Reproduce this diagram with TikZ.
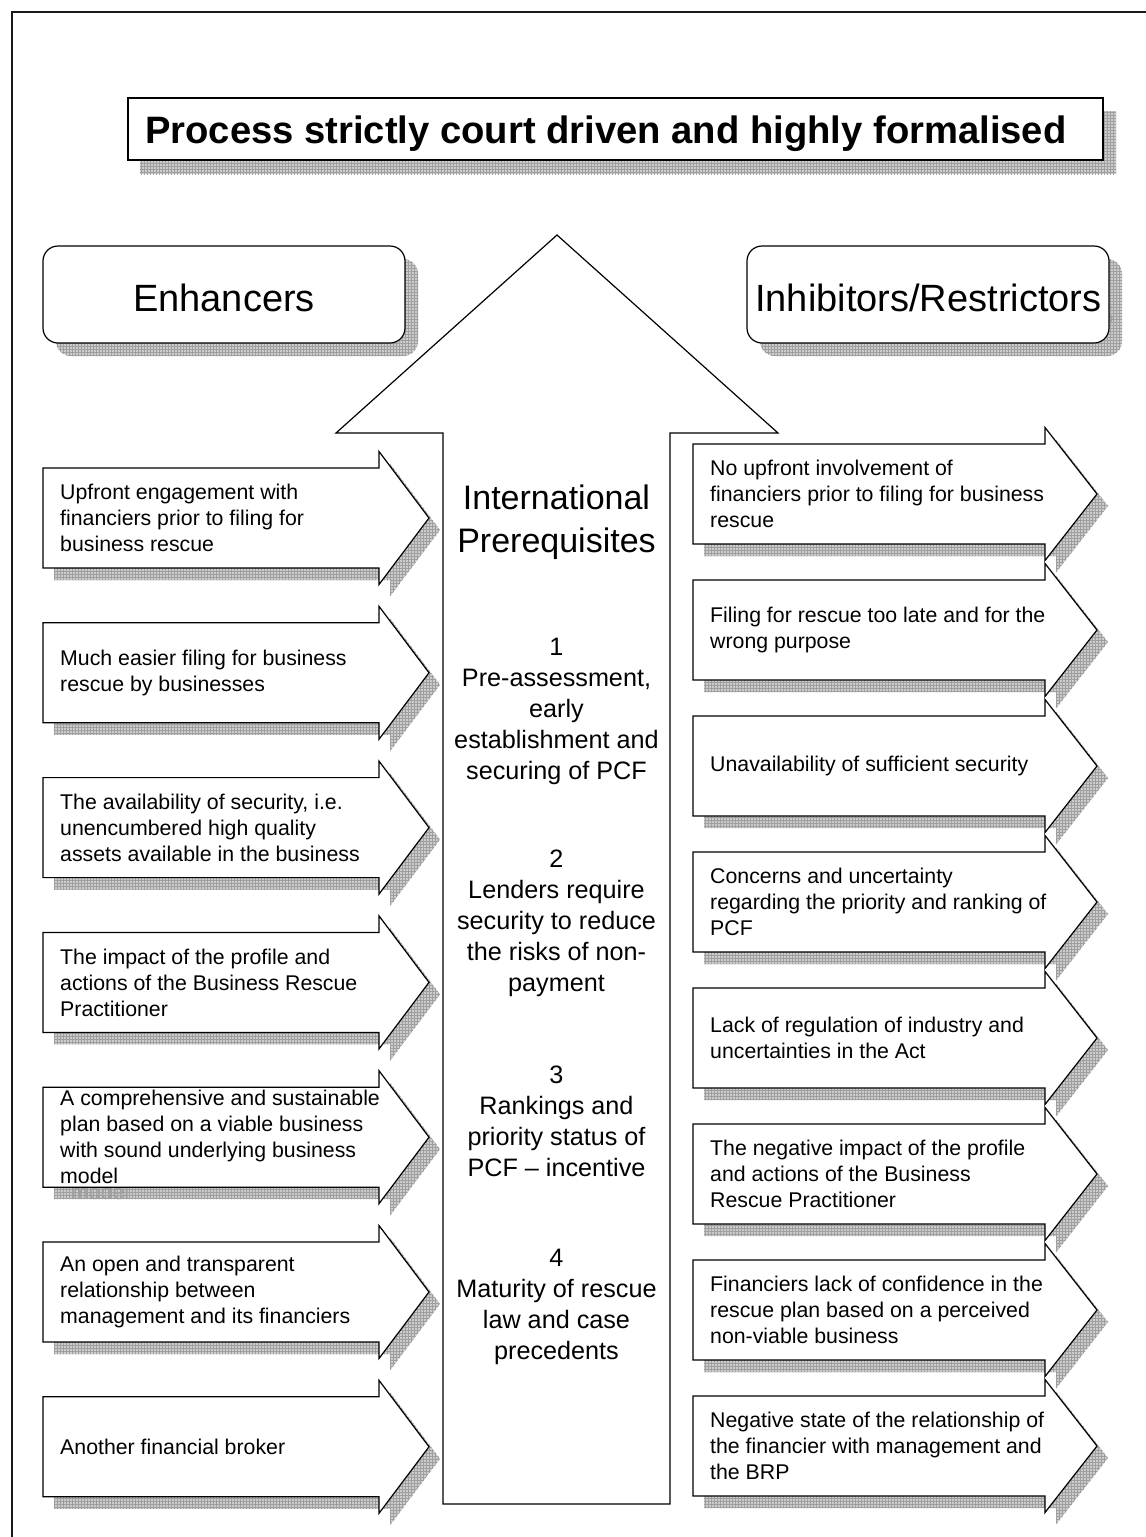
\documentclass[tikz,border=0pt]{standalone}
\usepackage{fontspec}
\setmainfont{Liberation Sans}
\usetikzlibrary{patterns}
\tikzset{
  outline/.style={draw=black, line width=1.2pt, fill=white, line join=miter},
  shadowbase/.style={fill=gray!40},
  shadowgrid/.style={pattern=grid, pattern color=gray!75},
  smalltxt/.style={font=\fontsize{21.3}{26}\selectfont, align=left, inner sep=0pt, anchor=west},
  midtxt/.style={font=\fontsize{25.2}{31}\selectfont, align=center, inner sep=0pt},
  headtxt/.style={font=\fontsize{38}{44}\selectfont, inner sep=0pt, anchor=base},
  ghosttxt/.style={text=gray!75, inner sep=0pt, anchor=base west},
}
% #1 name, #2 x left, #3 y top, #4 x head base, #5 x tip, #6 text, #7 extra (drawn over shadow)
\newcommand\arrowitem[7]{%
  \fill[shadowbase, shift={(11,12)}] (#2,#3) -- (#4,#3) -- (#4,#3-16.5) -- (#5,#3+50) -- (#4,#3+116.5) -- (#4,#3+100) -- (#2,#3+100) -- cycle;
  \fill[shadowgrid, shift={(11,12)}] (#2,#3) -- (#4,#3) -- (#4,#3-16.5) -- (#5,#3+50) -- (#4,#3+116.5) -- (#4,#3+100) -- (#2,#3+100) -- cycle;
  #7
  \draw[outline] (#2,#3) -- (#4,#3) -- (#4,#3-16.5) -- (#5,#3+50) -- (#4,#3+116.5) -- (#4,#3+100) -- (#2,#3+100) -- cycle;
  \node[smalltxt] (#1) at (#2+17,#3+50) {#6};
}
\begin{document}
\begin{tikzpicture}[x=1pt, y=-1pt]
\useasboundingbox (0,0) rectangle (1146,1537);
\fill[white] (0,0) rectangle (1146,1537);
% outer frame
\draw[line width=2pt, gray!20!black] (1146,12) -- (12,12) -- (12,1537);

% title
\fill[shadowbase] (140,111) rectangle (1116,174);
\fill[shadowgrid] (140,111) rectangle (1116,174);
\draw[outline] (128,98) rectangle (1103,160);
\node[inner sep=0pt, anchor=base west, font=\fontsize{38.2}{44}\selectfont\bfseries] (title) at (145,143) {Process strictly court driven and highly formalised};

% Enhancers
\fill[shadowbase, rounded corners=15pt] (56,259) rectangle (418,356);
\fill[shadowgrid, rounded corners=15pt] (56,259) rectangle (418,356);
\draw[outline, rounded corners=15pt] (43,246) rectangle (405,343);
\node[headtxt] (enh) at (224,311) {Enhancers};

% Inhibitors
\fill[shadowbase, rounded corners=15pt] (760,259) rectangle (1122,356);
\fill[shadowgrid, rounded corners=15pt] (760,259) rectangle (1122,356);
\node[ghosttxt, font=\fontsize{38}{44}\selectfont] (inhg) at (768,324) {Inhibitors/Restrictors};
\draw[outline, rounded corners=15pt] (747,246) rectangle (1109,343);
\node[inner sep=0pt, anchor=base west, font=\fontsize{38}{44}\selectfont] (inh) at (755,311) {Inhibitors/Restrictors};

% big up arrow
\draw[outline] (443,1504) -- (443,433) -- (336,433) -- (557,235) -- (778,433) -- (670,433) -- (670,1504) -- cycle;
\node[align=center, inner sep=0pt, font=\fontsize{34}{43}\selectfont] (intl) at (556.5,522) {International\\Prerequisites};
\node[midtxt] (p1) at (556.5,711) {1\\Pre-assessment,\\early\\establishment and\\securing of PCF};
\node[midtxt] (p2) at (556.5,923) {2\\Lenders require\\security to reduce\\the risks of non-\\payment};
\node[midtxt] (p3) at (556.5,1121) {3\\Rankings and\\priority status of\\PCF – incentive};
\node[midtxt] (p4) at (556.5,1307) {4\\Maturity of rescue\\law and case\\precedents};

% left arrows
\arrowitem{e1}{43}{468}{379}{429}{Upfront engagement with\\financiers prior to filing for\\business rescue}{}
\arrowitem{e2}{43}{622.8}{379}{429}{Much easier filing for business\\rescue by businesses}{}
\arrowitem{e3}{43}{777.6}{379}{429}{The availability of security, i.e.\\unencumbered high quality\\assets available in the business}{}
\arrowitem{e4}{43}{932.4}{379}{429}{The impact of the profile and\\actions of the Business Rescue\\Practitioner}{}
\arrowitem{e5}{43}{1087.2}{379}{429}{A comprehensive and sustainable\\plan based on a viable business\\with sound underlying business\\model}{\node[ghosttxt, font=\fontsize{21.3}{26}\selectfont] (e5g) at (71,1199) {model};}
\arrowitem{e6}{43}{1242}{379}{429}{An open and transparent\\relationship between\\management and its financiers}{}
\arrowitem{e7}{43}{1396.8}{379}{429}{Another financial broker}{}

% right arrows
\arrowitem{r1}{693}{444}{1045}{1097}{No upfront involvement of\\financiers prior to filing for business\\rescue}{}
\arrowitem{r2}{693}{580}{1045}{1097}{Filing for rescue too late and for the\\wrong purpose}{}
\arrowitem{r3}{693}{716}{1045}{1097}{Unavailability of sufficient security}{}
\arrowitem{r4}{693}{852}{1045}{1097}{Concerns and uncertainty\\regarding the priority and ranking of\\PCF}{}
\arrowitem{r5}{693}{988}{1045}{1097}{Lack of regulation of industry and\\uncertainties in the Act}{}
\arrowitem{r6}{693}{1124}{1045}{1097}{The negative impact of the profile\\and actions of the Business\\Rescue Practitioner}{}
\arrowitem{r7}{693}{1260}{1045}{1097}{Financiers lack of confidence in the\\rescue plan based on a perceived\\non-viable business}{}
\arrowitem{r8}{693}{1396}{1045}{1097}{Negative state of the relationship of\\the financier with management and\\the BRP}{}
\end{tikzpicture}
\end{document}
